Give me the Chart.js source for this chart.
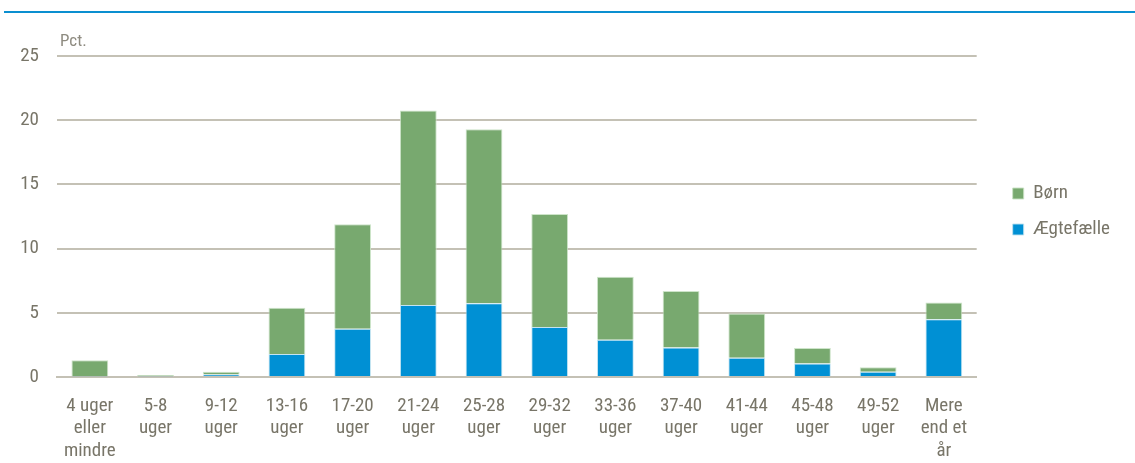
<!DOCTYPE html>
<html>
<head>
<meta charset="utf-8">
<script src="https://cdn.jsdelivr.net/npm/chart.js@4.4.1/dist/chart.umd.min.js"></script>
<style>
  html, body { margin: 0; padding: 0; background: #ffffff; }
  body { width: 1135px; height: 463px; overflow: hidden; position: relative; }
  #rule { position: absolute; left: 4px; right: 0; top: 11px; height: 2px; background: #0a8fd0; }
  #wrap { position: absolute; left: 0; top: 0; width: 1135px; height: 463px; }
</style>
</head>
<body>
<div id="rule"></div>
<div id="wrap"><canvas id="c"></canvas></div>
<script>
const categories = [
  ["4 uger", "eller", "mindre"],
  ["5-8", "uger"],
  ["9-12", "uger"],
  ["13-16", "uger"],
  ["17-20", "uger"],
  ["21-24", "uger"],
  ["25-28", "uger"],
  ["29-32", "uger"],
  ["33-36", "uger"],
  ["37-40", "uger"],
  ["41-44", "uger"],
  ["45-48", "uger"],
  ["49-52", "uger"],
  ["Mere", "end et", "år"]
];
const aegtefaelle = [0.05, 0.05, 0.2, 1.8, 3.75, 5.6, 5.75, 3.9, 2.9, 2.3, 1.5, 1.05, 0.4, 4.5];
const boern       = [1.25, 0.1, 0.2, 3.6, 8.15, 15.15, 13.55, 8.8, 4.9, 4.4, 3.45, 1.2, 0.35, 1.3];
const yTicks = [0, 5, 10, 15, 20, 25];
const seriesNames = ["Ægtefælle", "Børn"];
const unitLabel = "Pct.";

const FONT = "'Liberation Sans Narrow', 'Arial Narrow', 'Roboto Condensed', 'Liberation Sans', Arial, sans-serif";
const TEXT = "#787568";
const GRID = "#c4c1b5";

const unitPlugin = {
  id: 'unitLabel',
  afterDraw(chart) {
    const ctx = chart.ctx;
    const a = chart.chartArea;
    ctx.save();
    ctx.font = "17px " + FONT;
    ctx.fillStyle = "#8e8b80";
    ctx.textAlign = "left";
    ctx.textBaseline = "alphabetic";
    ctx.fillText(unitLabel, a.left + 3, a.top - 10);
    ctx.restore();
  }
};

const legendShift = {
  id: 'legendShift',
  afterLayout(chart) {
    const lg = chart.legend;
    if (!lg) return;
    lg.left += 19; lg.right += 19;
    lg.top -= 48; lg.bottom -= 48;
  }
};

new Chart(document.getElementById('c'), {
  type: 'bar',
  data: {
    labels: categories,
    datasets: [
      { label: seriesNames[0], data: aegtefaelle, backgroundColor: '#0090d4', borderColor: 'rgba(190,225,240,0.9)', borderWidth: 1, borderSkipped: 'bottom' },
      { label: seriesNames[1], data: boern, backgroundColor: '#78a96f', borderColor: 'rgba(200,225,195,0.9)', borderWidth: 1, borderSkipped: 'bottom' }
    ]
  },
  options: {
    responsive: true,
    maintainAspectRatio: false,
    animation: false,
    layout: { padding: { top: 56, left: 0, right: 34, bottom: 0 } },
    datasets: { bar: { categoryPercentage: 1.0, barPercentage: 0.56 } },
    plugins: {
      legend: {
        position: 'right',
        align: 'center',
        reverse: true,
        labels: {
          font: { family: FONT, size: 19 },
          color: TEXT,
          boxWidth: 11,
          boxHeight: 11,
          padding: 17,
          useBorderRadius: false
        }
      },
      tooltip: { enabled: false },
      title: { display: false }
    },
    scales: {
      x: {
        stacked: true,
        grid: { display: false },
        border: { display: true, color: GRID, width: 2 },
        ticks: {
          font: { family: FONT, size: 19, lineHeight: 1.18 },
          color: TEXT,
          maxRotation: 0,
          autoSkip: false,
          padding: 10
        },
        afterFit(scale) { scale.height = 86; }
      },
      y: {
        stacked: true,
        min: 0,
        max: 25,
        afterBuildTicks(scale) { scale.ticks = yTicks.map(v => ({ value: v })); },
        grid: { color: GRID, lineWidth: 2, drawTicks: false },
        border: { display: false },
        ticks: {
          font: { family: FONT, size: 19 },
          color: TEXT,
          padding: 18
        },
        afterFit(scale) { scale.width = 57; }
      }
    }
  },
  plugins: [unitPlugin, legendShift]
});
</script>
</body>
</html>
